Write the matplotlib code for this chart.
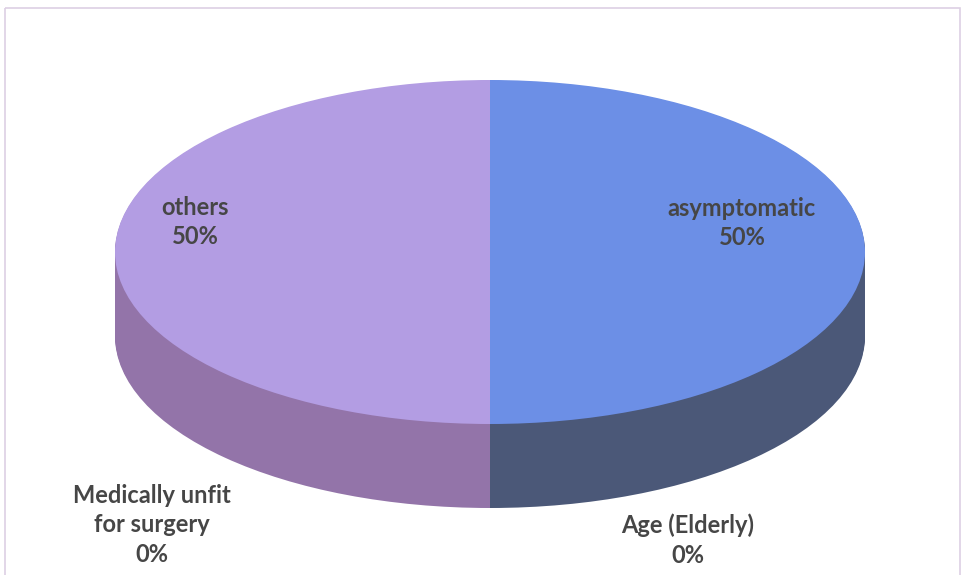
import matplotlib.pyplot as plt
import numpy as np
from matplotlib.patches import Rectangle

# Data
labels = ['asymptomatic', 'Age (Elderly)', 'Medically unfit\nfor surgery', 'others']
values = [50, 0, 0, 50]
pct_labels = ['50%', '0%', '0%', '50%']

top_colors = ['#6c8fe6', '#6c8fe6', '#b39de3', '#b39de3']
side_colors = ['#4b5878', '#4b5878', '#9374a9', '#9374a9']

W, H = 963, 575
fig = plt.figure(figsize=(W / 100, H / 100), dpi=100)

# pie geometry (pixels)
cx, cy_top, a, b = 490, 252, 375, 172
depth = 84
t = depth / b

ax = fig.add_axes([(cx - a) / W, (H - (cy_top + b + depth)) / H, 2 * a / W, (2 * b + depth) / H])

# side: stacked pies shifted downwards
for d in np.linspace(t, 0.005, 60):
    ax.pie(values, colors=side_colors, center=(0, -d), radius=1, startangle=90,
           counterclock=False, wedgeprops=dict(linewidth=0, antialiased=True))
# top face
ax.pie(values, colors=top_colors, center=(0, 0), radius=1, startangle=90,
       counterclock=False, wedgeprops=dict(linewidth=0))
ax.set_aspect('auto')
ax.set_xlim(-1, 1)
ax.set_ylim(-1 - t, 1)
ax.axis('off')

# overlay axes in pixel coordinates for frame and labels
bg = fig.add_axes([0, 0, 1, 1], zorder=5)
bg.patch.set_alpha(0)
bg.set_xlim(0, W)
bg.set_ylim(H, 0)
bg.axis('off')
bg.add_patch(Rectangle((5, 8), 955, 580, fill=False, edgecolor='#ddd0e4', linewidth=1.2))

# data labels
font = dict(family='Lato', fontsize=17, fontweight='bold', color='#464646',
            ha='center', va='center', linespacing=1.35)
label_pos = [(742, 223), (688, 540), (152, 525), (195, 222)]
for lab, pct, (x, y) in zip(labels, pct_labels, label_pos):
    bg.text(x, y, f'{lab}\n{pct}', **font)

fig.savefig('out.png', dpi=100)
